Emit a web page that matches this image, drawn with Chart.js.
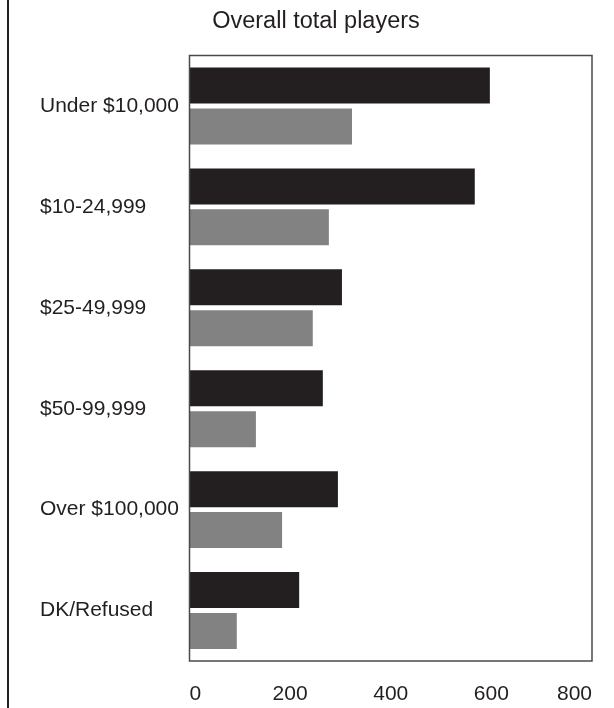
<!DOCTYPE html>
<html>
<head>
<meta charset="utf-8">
<script src="https://cdn.jsdelivr.net/npm/chart.js@4.4.1/dist/chart.umd.min.js"></script>
<style>
  html, body { margin: 0; padding: 0; background: #ffffff; }
  #wrap { position: relative; width: 614px; height: 708px; }
</style>
</head>
<body>
<div id="wrap"><canvas id="c" width="614" height="708"></canvas></div>
<script>
const categories = ['Under $10,000', '$10-24,999', '$25-49,999', '$50-99,999', 'Over $100,000', 'DK/Refused'];
const seriesDarkValues = [597, 567, 303, 265, 295, 218];
const seriesGrayValues = [323, 277, 245, 132, 184, 94];
const xTickValues = [0, 200, 400, 600, 800];
const titleText = 'Overall total players';

const frameAndLine = {
  id: 'frameAndLine',
  afterDraw(chart) {
    const ctx = chart.ctx;
    const a = chart.chartArea;
    ctx.save();
    ctx.strokeStyle = '#231f20';
    ctx.lineWidth = 2;
    ctx.beginPath();
    ctx.moveTo(8, 0);
    ctx.lineTo(8, chart.height);
    ctx.stroke();
    ctx.strokeStyle = '#4a4a4a';
    ctx.lineWidth = 1.5;
    ctx.strokeRect(a.left, a.top, a.right - a.left, a.bottom - a.top);
    ctx.restore();
  }
};

new Chart(document.getElementById('c'), {
  type: 'bar',
  data: {
    labels: categories,
    datasets: [
      { label: 'Series 1', data: seriesDarkValues, backgroundColor: '#231f20', borderWidth: 0,
        categoryPercentage: 0.81, barPercentage: 0.88 },
      { label: 'Series 2', data: seriesGrayValues, backgroundColor: '#828282', borderWidth: 0,
        categoryPercentage: 0.81, barPercentage: 0.88 }
    ]
  },
  options: {
    indexAxis: 'y',
    responsive: false,
    animation: false,
    devicePixelRatio: 1,
    layout: { padding: { left: 40, right: 22, top: 0, bottom: 0 } },
    plugins: {
      legend: { display: false },
      tooltip: { enabled: false },
      title: {
        display: true,
        text: titleText,
        fullSize: true,
        color: '#231f20',
        font: { family: 'Liberation Sans, Arial, sans-serif', size: 23.5, weight: 'normal' },
        padding: { top: 7, bottom: 20.3 }
      }
    },
    scales: {
      x: {
        min: 0, max: 800,
        afterBuildTicks(scale) { scale.ticks = xTickValues.map(v => ({ value: v })); },
        afterFit(scale) { scale.height = 47; },
        grid: { display: false, drawTicks: false },
        border: { display: false },
        ticks: {
          align: 'inner',
          padding: 21,
          color: '#231f20',
          font: { family: 'Liberation Sans, Arial, sans-serif', size: 21 }
        }
      },
      y: {
        afterFit(scale) { scale.width = 149.5; },
        grid: { display: false, drawTicks: false },
        border: { display: false },
        ticks: {
          crossAlign: 'far',
          padding: 10,
          color: '#231f20',
          font: { family: 'Liberation Sans, Arial, sans-serif', size: 21 }
        }
      }
    }
  },
  plugins: [frameAndLine]
});
</script>
</body>
</html>
